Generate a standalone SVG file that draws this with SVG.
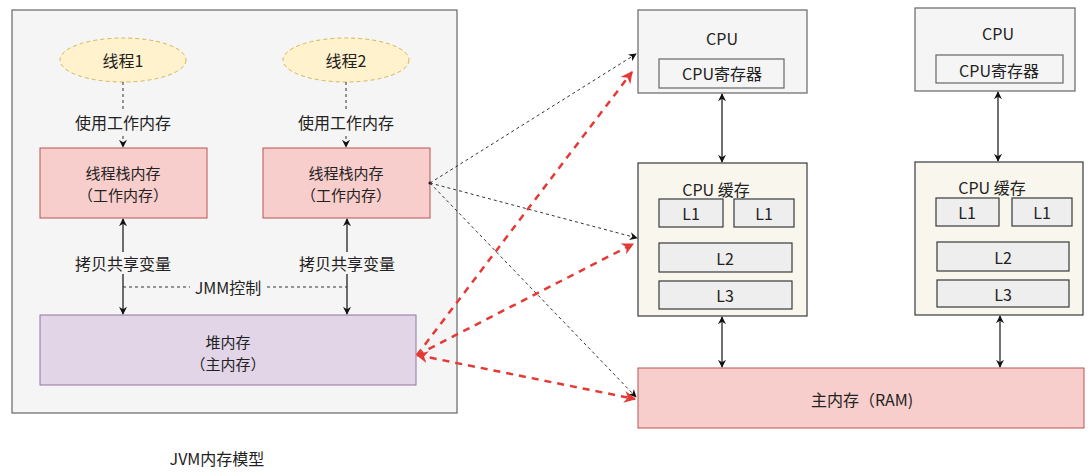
<svg xmlns="http://www.w3.org/2000/svg" width="1090" height="476" viewBox="0 0 1090 476">
<style>
text{font-family:"Noto Sans CJK SC","Liberation Sans",sans-serif;font-size:16px;fill:#222;text-anchor:middle;dominant-baseline:central}
text.two{font-size:15px}
.thread{fill:#fff2cc;stroke:#d6b656;stroke-dasharray:4 3;stroke-width:1}
.stack{fill:#f8cecc;stroke:#b85450;stroke-width:1}
.heap{fill:#e1d5e7;stroke:#9673a6;stroke-width:1}
.gray{fill:#f5f5f5;stroke:#666;stroke-width:1.2}
.cache{fill:#f9f7ed;stroke:#36393d;stroke-width:1.2}
.lbox{fill:#eeeeee;stroke:#36393d;stroke-width:1.2}
.dot{fill:none;stroke:#333;stroke-width:1;stroke-dasharray:3 3}
.solid{fill:none;stroke:#111;stroke-width:1.2}
.red{fill:none;stroke:#e53935;stroke-width:2.5;stroke-dasharray:7 6}
.jmm{fill:none;stroke:#333;stroke-width:1;stroke-dasharray:3 3}
.bg{fill:#f5f5f5}
</style>
<defs>
<marker id="ab" viewBox="0 0 10 10" refX="9" refY="5" markerWidth="8" markerHeight="8" orient="auto-start-reverse" markerUnits="userSpaceOnUse">
<path d="M0,0 L10,5 L0,10 L3,5 Z" fill="#111"/>
</marker>
<marker id="ar" viewBox="0 0 10 10" refX="9" refY="5" markerWidth="12" markerHeight="12" orient="auto-start-reverse" markerUnits="userSpaceOnUse">
<path d="M0,0 L10,5 L0,10 L3,5 Z" fill="#e53935"/>
</marker>
</defs>
<rect width="1090" height="476" fill="#ffffff"/>
<g id="jvm">
<rect x="12" y="10" width="445" height="403" class="gray"/>
<text x="217" y="458">JVM内存模型</text>
</g>
<g id="thread1"><ellipse cx="123" cy="60" rx="63" ry="22" class="thread"/><text x="123" y="60">线程1</text></g>
<g id="thread2"><ellipse cx="346" cy="60" rx="63" ry="22" class="thread"/><text x="346" y="60">线程2</text></g>
<g id="stack1"><rect x="40" y="148" width="167" height="70" class="stack"/><text class="two" x="123" y="172">线程栈内存</text><text class="two" x="123" y="194">（工作内存）</text></g>
<g id="stack2"><rect x="263" y="148" width="167" height="70" class="stack"/><text class="two" x="346" y="172">线程栈内存</text><text class="two" x="346" y="194">（工作内存）</text></g>
<g id="heap"><rect x="40" y="315" width="376" height="70" class="heap"/><text class="two" x="228" y="341">堆内存</text><text class="two" x="228" y="363">（主内存）</text></g>
<g id="cpu1"><rect x="638" y="10" width="169" height="83" class="gray"/><text x="722" y="38">CPU</text><rect x="659" y="59" width="125" height="29" class="gray"/><text x="722" y="73">CPU寄存器</text></g>
<g id="cpu2"><rect x="915" y="8" width="160" height="83" class="gray"/><text x="998" y="33">CPU</text><rect x="936" y="55" width="127" height="28" class="gray"/><text x="999" y="70">CPU寄存器</text></g>
<g id="cache1"><rect x="638" y="163" width="169" height="153" class="cache"/><text x="716" y="189">CPU 缓存</text>
<rect x="659" y="199" width="64" height="28" class="lbox"/><text x="691" y="213">L1</text>
<rect x="734" y="199" width="60" height="28" class="lbox"/><text x="764" y="213">L1</text>
<rect x="659" y="243" width="133" height="29" class="lbox"/><text x="725" y="258">L2</text>
<rect x="659" y="281" width="133" height="28" class="lbox"/><text x="725" y="295">L3</text></g>
<g id="cache2"><rect x="915" y="162" width="168" height="153" class="cache"/><text x="992" y="187">CPU 缓存</text>
<rect x="936" y="198" width="63" height="28" class="lbox"/><text x="967" y="212">L1</text>
<rect x="1012" y="198" width="60" height="28" class="lbox"/><text x="1042" y="212">L1</text>
<rect x="937" y="242" width="132" height="29" class="lbox"/><text x="1003" y="257">L2</text>
<rect x="937" y="280" width="132" height="27" class="lbox"/><text x="1003" y="294">L3</text></g>
<g id="ram"><rect x="638" y="368" width="446" height="60" class="stack"/><text x="862" y="399">主内存（RAM)</text></g>
<g id="connectors">
<path d="M123,82 V147" class="dot" marker-end="url(#ab)"/>
<path d="M346,82 V147" class="dot" marker-end="url(#ab)"/>
<rect x="72" y="111" width="102" height="22" class="bg"/><text x="123" y="122">使用工作内存</text>
<rect x="295" y="111" width="102" height="22" class="bg"/><text x="346" y="122">使用工作内存</text>
<path d="M123,219 V314" class="solid" marker-start="url(#ab)" marker-end="url(#ab)"/>
<path d="M347,219 V314" class="solid" marker-start="url(#ab)" marker-end="url(#ab)"/>
<path d="M123,287 H347" class="jmm"/>
<rect x="70" y="252" width="106" height="22" class="bg"/><text x="123" y="263">拷贝共享变量</text>
<rect x="294" y="252" width="106" height="22" class="bg"/><text x="347" y="263">拷贝共享变量</text>
<rect x="190" y="277" width="76" height="20" class="bg"/><text x="228" y="287">JMM控制</text>
<path d="M722,94 V162" class="solid" marker-start="url(#ab)" marker-end="url(#ab)"/>
<path d="M998,92 V161" class="solid" marker-start="url(#ab)" marker-end="url(#ab)"/>
<path d="M722,317 V367" class="solid" marker-start="url(#ab)" marker-end="url(#ab)"/>
<path d="M1000,316 V367" class="solid" marker-start="url(#ab)" marker-end="url(#ab)"/>
<circle cx="430" cy="183" r="1.5" fill="#111"/>
<path d="M430,183 L636,54" class="dot" marker-end="url(#ab)"/>
<path d="M430,183 L637,238" class="dot" marker-end="url(#ab)"/>
<path d="M430,183 L636,397" class="dot" marker-end="url(#ab)"/>
<path d="M417,355 L632,72" class="red" marker-end="url(#ar)"/>
<path d="M417,355 L633,244" class="red" marker-end="url(#ar)"/>
<path d="M417,355 L635,399" class="red" marker-start="url(#ar)" marker-end="url(#ar)"/>
</g>
</svg>
